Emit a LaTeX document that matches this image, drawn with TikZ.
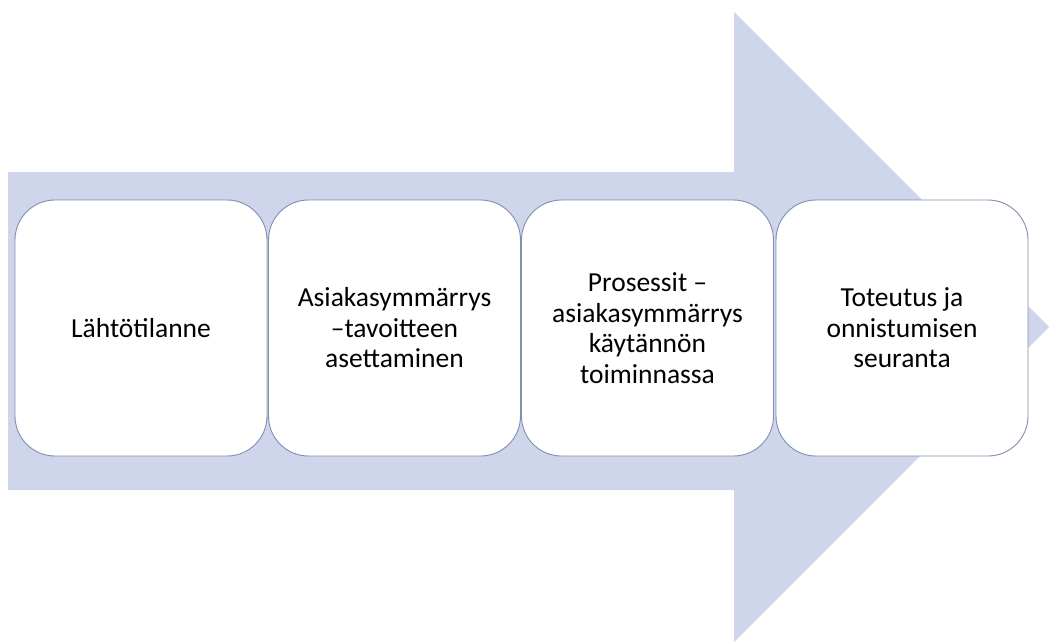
\documentclass[tikz,border=0pt]{standalone}
\usepackage{fontspec}
\setmainfont{Carlito}
\definecolor{arrowfill}{RGB}{207,213,234}
\definecolor{stageline}{RGB}{128,143,176}
\begin{document}
\begin{tikzpicture}[
x=1pt, y=-1pt,
stage/.style={
        draw=stageline,
        line width=0.9pt,
        fill=white,
        rounded corners=40pt,
        minimum width=252pt,
        minimum height=256pt,
        align=center,
        font=\fontsize{27.5}{30.5}\selectfont,
    },
 ]
\useasboundingbox (0,0) rectangle (1049,643);

% big arrow behind the stages
\fill[arrowfill] (8,172) -- (734,172) -- (734,12) -- (1049,327)
    -- (734,642) -- (734,490) -- (8,490) -- cycle;

   \node [stage] (lahto) at (141,328) {Lähtötilanne};
     \node [stage] (tavoite) at (394.5,328) {Asiakasymmärrys\\ –tavoitteen\\ asettaminen};
     \node [stage] (prosessit) at (647.5,328) {Prosessit –\\ asiakasymmärrys\\ käytännön\\ toiminnassa};
     \node [stage] (toteutus) at (902,328) {Toteutus ja\\ onnistumisen\\ seuranta};
\end{tikzpicture}
\end{document}
